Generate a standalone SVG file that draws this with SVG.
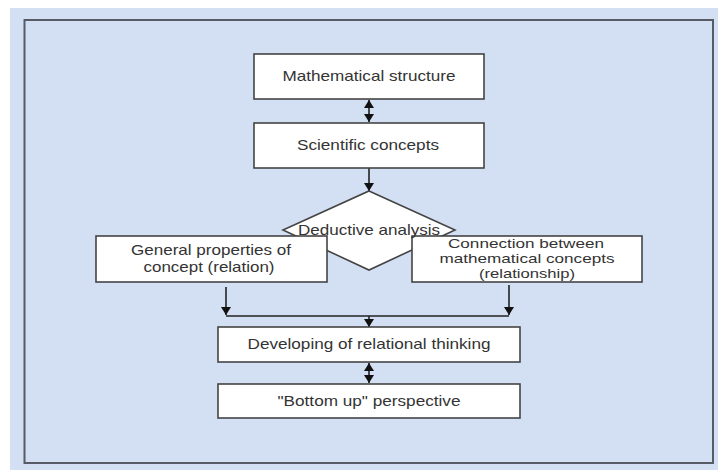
<svg xmlns="http://www.w3.org/2000/svg" width="718" height="470" viewBox="0 0 718 470">
<defs>
<style>
.box{fill:#ffffff;stroke:#444;stroke-width:1.6}
.t{font-family:"Liberation Sans",Arial,sans-serif;font-size:15px;fill:#333;text-anchor:middle}
.s{font-size:13.5px}
.ln{stroke:#222;stroke-width:1.6;fill:none}
</style>
<marker id="ah" viewBox="0 0 8 10" refX="8" refY="5" markerWidth="8" markerHeight="10" markerUnits="userSpaceOnUse" orient="auto-start-reverse">
<path d="M0,0 L8,5 L0,10 Z" fill="#111"/>
</marker>
</defs>
<rect x="0" y="0" width="718" height="470" fill="#ffffff"/>
<rect x="10" y="8" width="708" height="462" fill="#d3dff2"/>
<rect x="24.5" y="20" width="688.5" height="443" fill="none" stroke="#555c66" stroke-width="2"/>

<g id="connectors">
<line class="ln" x1="369" y1="100" x2="369" y2="122" marker-start="url(#ah)" marker-end="url(#ah)"/>
<line class="ln" x1="369" y1="168" x2="369" y2="191" marker-end="url(#ah)"/>
<line class="ln" x1="226" y1="287" x2="226" y2="315" marker-end="url(#ah)"/>
<line class="ln" x1="509" y1="285" x2="509" y2="315" marker-end="url(#ah)"/>
<line class="ln" x1="226" y1="316" x2="509" y2="316"/>
<line class="ln" x1="369" y1="316" x2="369" y2="327" marker-end="url(#ah)"/>
<line class="ln" x1="369" y1="363" x2="369" y2="383" marker-start="url(#ah)" marker-end="url(#ah)"/>
</g>

<g id="n-math">
<rect class="box" x="254" y="54" width="230" height="45"/>
<text class="t" x="369" y="81" textLength="173" lengthAdjust="spacingAndGlyphs">Mathematical structure</text>
</g>
<g id="n-sci">
<rect class="box" x="254" y="123" width="230" height="45"/>
<text class="t" x="368" y="150" textLength="142" lengthAdjust="spacingAndGlyphs">Scientific concepts</text>
</g>
<g id="n-deductive">
<polygon class="box" points="369,191 455,230 369,270 283,230"/>
</g>
<g id="n-general">
<rect class="box" x="96" y="236" width="231" height="46"/>
<text class="t" x="211" y="255" textLength="160" lengthAdjust="spacingAndGlyphs">General properties of</text>
<text class="t" x="209" y="272" textLength="131" lengthAdjust="spacingAndGlyphs">concept (relation)</text>
</g>
<g id="n-connection">
<rect class="box" x="412" y="236" width="230" height="46"/>
<text class="t s" x="526" y="248" textLength="156" lengthAdjust="spacingAndGlyphs">Connection between</text>
<text class="t s" x="527" y="263" textLength="175" lengthAdjust="spacingAndGlyphs">mathematical concepts</text>
<text class="t s" x="527" y="278" textLength="96" lengthAdjust="spacingAndGlyphs">(relationship)</text>
</g>
<g id="n-deductive-label">
<text class="t" x="369" y="235" textLength="142" lengthAdjust="spacingAndGlyphs">Deductive analysis</text>
</g>
<g id="n-developing">
<rect class="box" x="218" y="327" width="302" height="35"/>
<text class="t" x="369" y="349" textLength="243" lengthAdjust="spacingAndGlyphs">Developing of relational thinking</text>
</g>
<g id="n-bottom">
<rect class="box" x="218" y="384" width="302" height="34"/>
<text class="t" x="369" y="406" textLength="183" lengthAdjust="spacingAndGlyphs">"Bottom up" perspective</text>
</g>
</svg>
